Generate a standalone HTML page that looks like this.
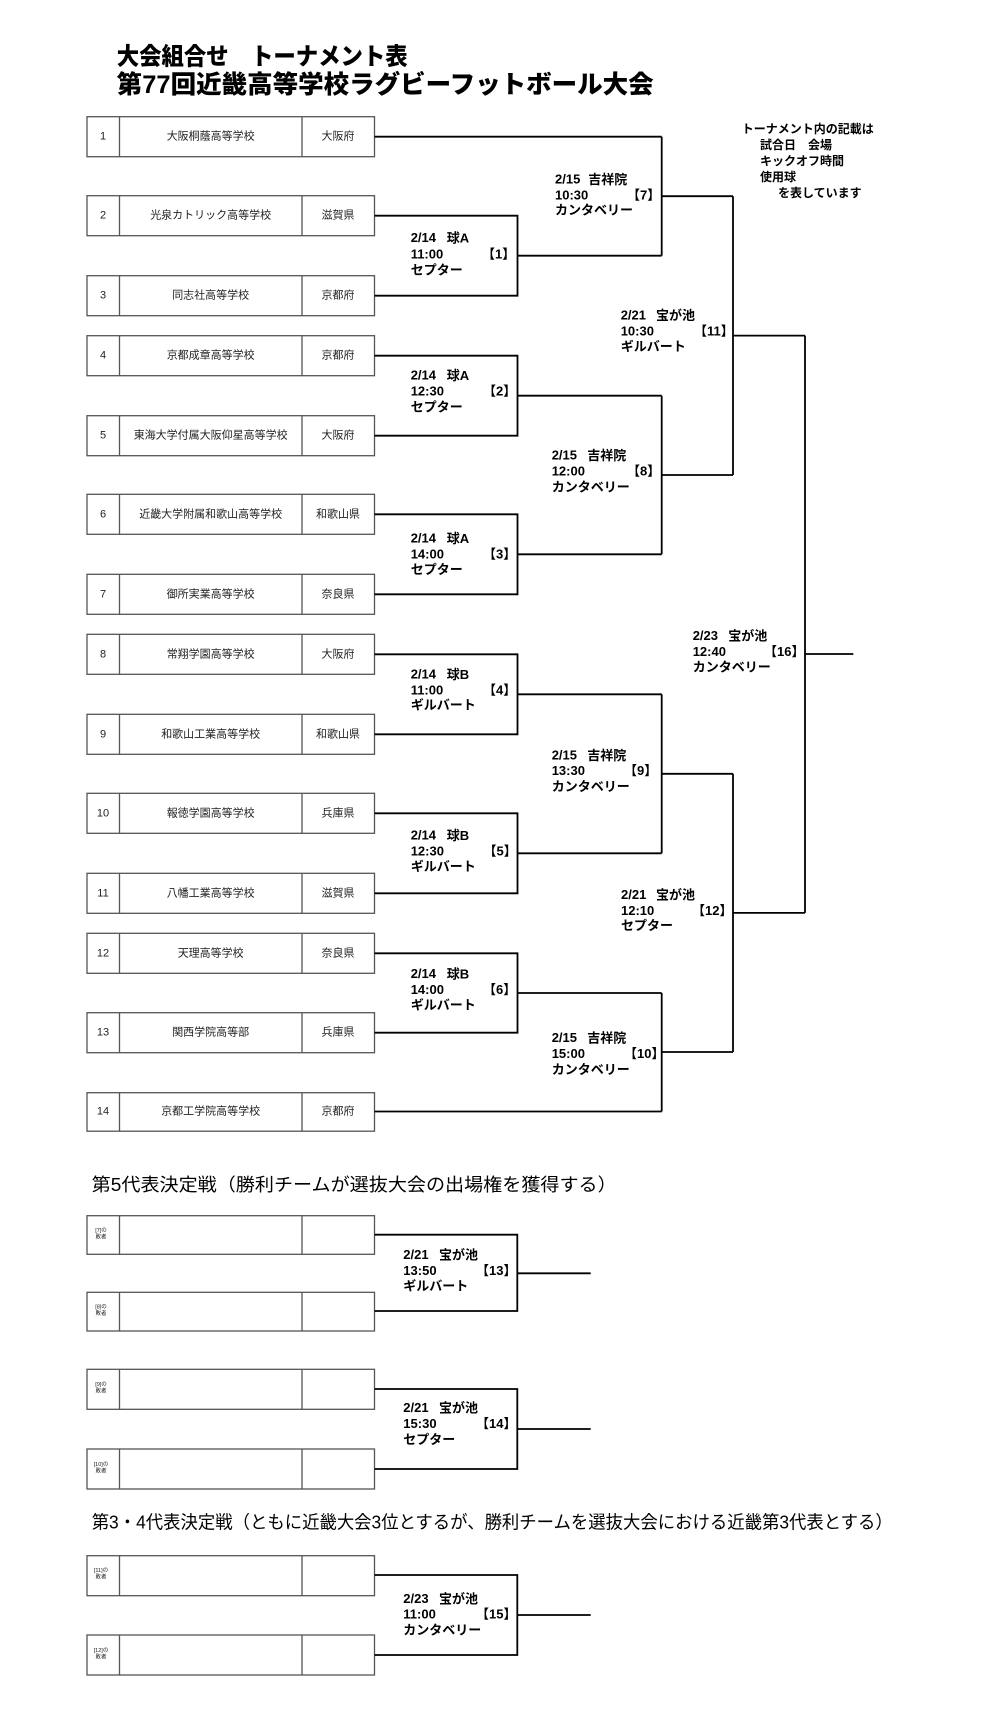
<!DOCTYPE html>
<html><head><meta charset="utf-8"><style>
html,body{margin:0;padding:0;background:#fff;}
svg{display:block;}
.t{font-family:"Liberation Sans","Noto Sans CJK JP",sans-serif;}
.b{font-weight:bold;font-size:13px;fill:#000;}
.tm{font-size:11px;fill:#222;}
.box{fill:none;stroke:#555;stroke-width:1.3;}
.br{fill:none;stroke:#000;stroke-width:1.8;}
.sm{font-size:5.5px;fill:#222;}
</style></head><body>
<svg width="1000" height="1718" viewBox="0 0 1000 1718" xmlns="http://www.w3.org/2000/svg" class="t">
<rect width="1000" height="1718" fill="#fff"/>
<!-- Title -->
<text x="116.7" y="57" dominant-baseline="central" font-size="24" font-weight="900" textLength="291" lengthAdjust="spacingAndGlyphs">大会組合せ　トーナメント表</text>
<text x="116.7" y="85" dominant-baseline="central" font-size="25" font-weight="900" textLength="537" lengthAdjust="spacingAndGlyphs">第77回近畿高等学校ラグビーフットボール大会</text>

<!-- Note -->
<g class="t" font-size="12" font-weight="bold" dominant-baseline="central">
<text x="741.7" y="129" dominant-baseline="central">トーナメント内の記載は</text>
<text x="760" y="145" dominant-baseline="central">試合日　会場</text>
<text x="760" y="161" dominant-baseline="central">キックオフ時間</text>
<text x="760" y="177" dominant-baseline="central">使用球</text>
<text x="778" y="193" dominant-baseline="central">を表しています</text>
</g>

<!-- Team boxes -->
<g class="box">
<rect x="87" y="116.7" width="287.5" height="40"/><path d="M119.5 116.7V156.7M302 116.7V156.7"/>
<rect x="87" y="195.7" width="287.5" height="40"/><path d="M119.5 195.7V235.7M302 195.7V235.7"/>
<rect x="87" y="275.7" width="287.5" height="40"/><path d="M119.5 275.7V315.7M302 275.7V315.7"/>
<rect x="87" y="335.7" width="287.5" height="40"/><path d="M119.5 335.7V375.7M302 335.7V375.7"/>
<rect x="87" y="415.7" width="287.5" height="40"/><path d="M119.5 415.7V455.7M302 415.7V455.7"/>
<rect x="87" y="494.3" width="287.5" height="40"/><path d="M119.5 494.3V534.3M302 494.3V534.3"/>
<rect x="87" y="574.3" width="287.5" height="40"/><path d="M119.5 574.3V614.3M302 574.3V614.3"/>
<rect x="87" y="634.3" width="287.5" height="40"/><path d="M119.5 634.3V674.3M302 634.3V674.3"/>
<rect x="87" y="714.3" width="287.5" height="40"/><path d="M119.5 714.3V754.3M302 714.3V754.3"/>
<rect x="87" y="793.3" width="287.5" height="40"/><path d="M119.5 793.3V833.3M302 793.3V833.3"/>
<rect x="87" y="873.3" width="287.5" height="40"/><path d="M119.5 873.3V913.3M302 873.3V913.3"/>
<rect x="87" y="933.3" width="287.5" height="40"/><path d="M119.5 933.3V973.3M302 933.3V973.3"/>
<rect x="87" y="1012.7" width="287.5" height="40"/><path d="M119.5 1012.7V1052.7M302 1012.7V1052.7"/>
<rect x="87" y="1092.7" width="287.5" height="38.5"/><path d="M119.5 1092.7V1131.2M302 1092.7V1131.2"/>
<!-- lower boxes -->
<rect x="87" y="1215.7" width="287.5" height="38.6"/><path d="M119.5 1215.7V1254.3M302 1215.7V1254.3"/>
<rect x="87" y="1292.3" width="287.5" height="38.7"/><path d="M119.5 1292.3V1331M302 1292.3V1331"/>
<rect x="87" y="1369.3" width="287.5" height="40"/><path d="M119.5 1369.3V1409.3M302 1369.3V1409.3"/>
<rect x="87" y="1449" width="287.5" height="40"/><path d="M119.5 1449V1489M302 1449V1489"/>
<rect x="87" y="1555.7" width="287.5" height="40"/><path d="M119.5 1555.7V1595.7M302 1555.7V1595.7"/>
<rect x="87" y="1635" width="287.5" height="40"/><path d="M119.5 1635V1675M302 1635V1675"/>
</g>

<!-- Team text -->
<g class="tm">
<g text-anchor="middle">
<text x="103" y="136.7" dominant-baseline="central">1</text><text x="210.7" y="136.7" dominant-baseline="central">大阪桐蔭高等学校</text><text x="338" y="136.7" dominant-baseline="central">大阪府</text>
<text x="103" y="215.7" dominant-baseline="central">2</text><text x="210.7" y="215.7" dominant-baseline="central">光泉カトリック高等学校</text><text x="338" y="215.7" dominant-baseline="central">滋賀県</text>
<text x="103" y="295.7" dominant-baseline="central">3</text><text x="210.7" y="295.7" dominant-baseline="central">同志社高等学校</text><text x="338" y="295.7" dominant-baseline="central">京都府</text>
<text x="103" y="355.7" dominant-baseline="central">4</text><text x="210.7" y="355.7" dominant-baseline="central">京都成章高等学校</text><text x="338" y="355.7" dominant-baseline="central">京都府</text>
<text x="103" y="435.7" dominant-baseline="central">5</text><text x="210.7" y="435.7" dominant-baseline="central">東海大学付属大阪仰星高等学校</text><text x="338" y="435.7" dominant-baseline="central">大阪府</text>
<text x="103" y="514.3" dominant-baseline="central">6</text><text x="210.7" y="514.3" dominant-baseline="central">近畿大学附属和歌山高等学校</text><text x="338" y="514.3" dominant-baseline="central">和歌山県</text>
<text x="103" y="594.3" dominant-baseline="central">7</text><text x="210.7" y="594.3" dominant-baseline="central">御所実業高等学校</text><text x="338" y="594.3" dominant-baseline="central">奈良県</text>
<text x="103" y="654.3" dominant-baseline="central">8</text><text x="210.7" y="654.3" dominant-baseline="central">常翔学園高等学校</text><text x="338" y="654.3" dominant-baseline="central">大阪府</text>
<text x="103" y="734.3" dominant-baseline="central">9</text><text x="210.7" y="734.3" dominant-baseline="central">和歌山工業高等学校</text><text x="338" y="734.3" dominant-baseline="central">和歌山県</text>
<text x="103" y="813.3" dominant-baseline="central">10</text><text x="210.7" y="813.3" dominant-baseline="central">報徳学園高等学校</text><text x="338" y="813.3" dominant-baseline="central">兵庫県</text>
<text x="103" y="893.3" dominant-baseline="central">11</text><text x="210.7" y="893.3" dominant-baseline="central">八幡工業高等学校</text><text x="338" y="893.3" dominant-baseline="central">滋賀県</text>
<text x="103" y="953.3" dominant-baseline="central">12</text><text x="210.7" y="953.3" dominant-baseline="central">天理高等学校</text><text x="338" y="953.3" dominant-baseline="central">奈良県</text>
<text x="103" y="1032.7" dominant-baseline="central">13</text><text x="210.7" y="1032.7" dominant-baseline="central">関西学院高等部</text><text x="338" y="1032.7" dominant-baseline="central">兵庫県</text>
<text x="103" y="1111.5" dominant-baseline="central">14</text><text x="210.7" y="1111.5" dominant-baseline="central">京都工学院高等学校</text><text x="338" y="1111.5" dominant-baseline="central">京都府</text>
</g>
</g>

<!-- small loser labels -->
<g class="sm" text-anchor="middle">
<text x="101" y="1231" dominant-baseline="central">[7]の</text><text x="101" y="1237.5" dominant-baseline="central">敗者</text>
<text x="101" y="1307.5" dominant-baseline="central">[8]の</text><text x="101" y="1314" dominant-baseline="central">敗者</text>
<text x="101" y="1385" dominant-baseline="central">[9]の</text><text x="101" y="1391.5" dominant-baseline="central">敗者</text>
<text x="101" y="1465" dominant-baseline="central">[10]の</text><text x="101" y="1471.5" dominant-baseline="central">敗者</text>
<text x="101" y="1571" dominant-baseline="central">[11]の</text><text x="101" y="1577.5" dominant-baseline="central">敗者</text>
<text x="101" y="1651" dominant-baseline="central">[12]の</text><text x="101" y="1657.5" dominant-baseline="central">敗者</text>
</g>

<!-- Bracket lines -->
<g class="br">
<path d="M374.5 136.7H661.7"/>
<path d="M374.5 215.7H517.5V295.7H374.5M517.5 255.7H661.7"/>
<path d="M661.7 136.7V255.7M661.7 196.2H733"/>
<path d="M374.5 355.7H517.5V435.7H374.5M517.5 395.7H661.7"/>
<path d="M374.5 514.3H517.5V594.3H374.5M517.5 554.3H661.7"/>
<path d="M661.7 395.7V554.3M661.7 475H733"/>
<path d="M733 196.2V475M733 335.6H805"/>
<path d="M374.5 654.3H517.5V734.3H374.5M517.5 694.3H661.7"/>
<path d="M374.5 813.3H517.5V893.3H374.5M517.5 853.3H661.7"/>
<path d="M661.7 694.3V853.3M661.7 773.8H733"/>
<path d="M374.5 953.3H517.5V1032.7H374.5M517.5 993H661.7"/>
<path d="M374.5 1111.5H661.7"/>
<path d="M661.7 993V1111.5M661.7 1052H733"/>
<path d="M733 773.8V1052M733 912.9H805"/>
<path d="M805 335.6V912.9M805 654H853.3"/>
<!-- lower -->
<path d="M374.5 1234.7H517.3V1311H374.5M517.3 1273.3H590.7"/>
<path d="M374.5 1389H517.3V1469H374.5M517.3 1429H590.7"/>
<path d="M374.5 1575H517.3V1655H374.5M517.3 1615H590.7"/>
</g>

<!-- Match text -->
<g class="b">
<!-- [1] -->
<text x="410.7" y="237.7" dominant-baseline="central">2/14<tspan x="446.7">球A</tspan></text>
<text x="410.7" y="254" dominant-baseline="central">11:00</text><text x="482" y="254" dominant-baseline="central">【1】</text>
<text x="410.7" y="270" dominant-baseline="central">セプター</text>
<!-- [2] -->
<text x="410.7" y="375" dominant-baseline="central">2/14<tspan x="446.7">球A</tspan></text>
<text x="410.7" y="391" dominant-baseline="central">12:30</text><text x="483" y="391" dominant-baseline="central">【2】</text>
<text x="410.7" y="407" dominant-baseline="central">セプター</text>
<!-- [3] -->
<text x="410.7" y="538" dominant-baseline="central">2/14<tspan x="446.7">球A</tspan></text>
<text x="410.7" y="554" dominant-baseline="central">14:00</text><text x="483" y="554" dominant-baseline="central">【3】</text>
<text x="410.7" y="569.5" dominant-baseline="central">セプター</text>
<!-- [4] -->
<text x="410.7" y="674" dominant-baseline="central">2/14<tspan x="446.7">球B</tspan></text>
<text x="410.7" y="690" dominant-baseline="central">11:00</text><text x="483" y="690" dominant-baseline="central">【4】</text>
<text x="410.7" y="705" dominant-baseline="central">ギルバート</text>
<!-- [5] -->
<text x="410.7" y="835" dominant-baseline="central">2/14<tspan x="446.7">球B</tspan></text>
<text x="410.7" y="851" dominant-baseline="central">12:30</text><text x="483.5" y="851" dominant-baseline="central">【5】</text>
<text x="410.7" y="866.7" dominant-baseline="central">ギルバート</text>
<!-- [6] -->
<text x="410.7" y="973.3" dominant-baseline="central">2/14<tspan x="446.7">球B</tspan></text>
<text x="410.7" y="989.3" dominant-baseline="central">14:00</text><text x="483" y="989.3" dominant-baseline="central">【6】</text>
<text x="410.7" y="1005" dominant-baseline="central">ギルバート</text>
<!-- [7] -->
<text x="555" y="179" dominant-baseline="central">2/15<tspan x="588.3">吉祥院</tspan></text>
<text x="555" y="195" dominant-baseline="central">10:30</text><text x="627" y="195" dominant-baseline="central">【7】</text>
<text x="555" y="210" dominant-baseline="central">カンタベリー</text>
<!-- [8] -->
<text x="551.7" y="455" dominant-baseline="central">2/15<tspan x="587.3">吉祥院</tspan></text>
<text x="551.7" y="471" dominant-baseline="central">12:00</text><text x="627" y="471" dominant-baseline="central">【8】</text>
<text x="551.7" y="487" dominant-baseline="central">カンタベリー</text>
<!-- [9] -->
<text x="551.7" y="755" dominant-baseline="central">2/15<tspan x="587.3">吉祥院</tspan></text>
<text x="551.7" y="770.7" dominant-baseline="central">13:30</text><text x="624" y="770.7" dominant-baseline="central">【9】</text>
<text x="551.7" y="786.7" dominant-baseline="central">カンタベリー</text>
<!-- [10] -->
<text x="551.7" y="1037.3" dominant-baseline="central">2/15<tspan x="587.3">吉祥院</tspan></text>
<text x="551.7" y="1053.7" dominant-baseline="central">15:00</text><text x="624" y="1053.7" dominant-baseline="central">【10】</text>
<text x="551.7" y="1069.3" dominant-baseline="central">カンタベリー</text>
<!-- [11] -->
<text x="620.7" y="315" dominant-baseline="central">2/21<tspan x="656">宝が池</tspan></text>
<text x="620.7" y="331" dominant-baseline="central">10:30</text><text x="694" y="331" dominant-baseline="central">【11】</text>
<text x="620.7" y="346.7" dominant-baseline="central">ギルバート</text>
<!-- [12] -->
<text x="621" y="894.3" dominant-baseline="central">2/21<tspan x="656">宝が池</tspan></text>
<text x="621" y="910.3" dominant-baseline="central">12:10</text><text x="692" y="910.3" dominant-baseline="central">【12】</text>
<text x="621" y="925.7" dominant-baseline="central">セプター</text>
<!-- [16] -->
<text x="692.7" y="635.3" dominant-baseline="central">2/23<tspan x="728.3">宝が池</tspan></text>
<text x="692.7" y="651.3" dominant-baseline="central">12:40</text><text x="764" y="651.3" dominant-baseline="central">【16】</text>
<text x="692.7" y="667" dominant-baseline="central">カンタベリー</text>
<!-- [13] -->
<text x="403.3" y="1254.7" dominant-baseline="central">2/21<tspan x="439">宝が池</tspan></text>
<text x="403.3" y="1270.3" dominant-baseline="central">13:50</text><text x="476" y="1270.3" dominant-baseline="central">【13】</text>
<text x="403.3" y="1286" dominant-baseline="central">ギルバート</text>
<!-- [14] -->
<text x="403.3" y="1407.7" dominant-baseline="central">2/21<tspan x="439">宝が池</tspan></text>
<text x="403.3" y="1423.7" dominant-baseline="central">15:30</text><text x="476" y="1423.7" dominant-baseline="central">【14】</text>
<text x="403.3" y="1439.3" dominant-baseline="central">セプター</text>
<!-- [15] -->
<text x="403.3" y="1598.3" dominant-baseline="central">2/23<tspan x="439">宝が池</tspan></text>
<text x="403.3" y="1614" dominant-baseline="central">11:00</text><text x="476" y="1614" dominant-baseline="central">【15】</text>
<text x="403.3" y="1630" dominant-baseline="central">カンタベリー</text>
</g>

<!-- Section headings -->
<text x="91.7" y="1185" dominant-baseline="central" font-size="18" textLength="525" lengthAdjust="spacingAndGlyphs">第5代表決定戦（勝利チームが選抜大会の出場権を獲得する）</text>
<text x="91.7" y="1522.7" dominant-baseline="central" font-size="18" textLength="801" lengthAdjust="spacingAndGlyphs">第3・4代表決定戦（ともに近畿大会3位とするが、勝利チームを選抜大会における近畿第3代表とする）</text>
</svg>
</body></html>
